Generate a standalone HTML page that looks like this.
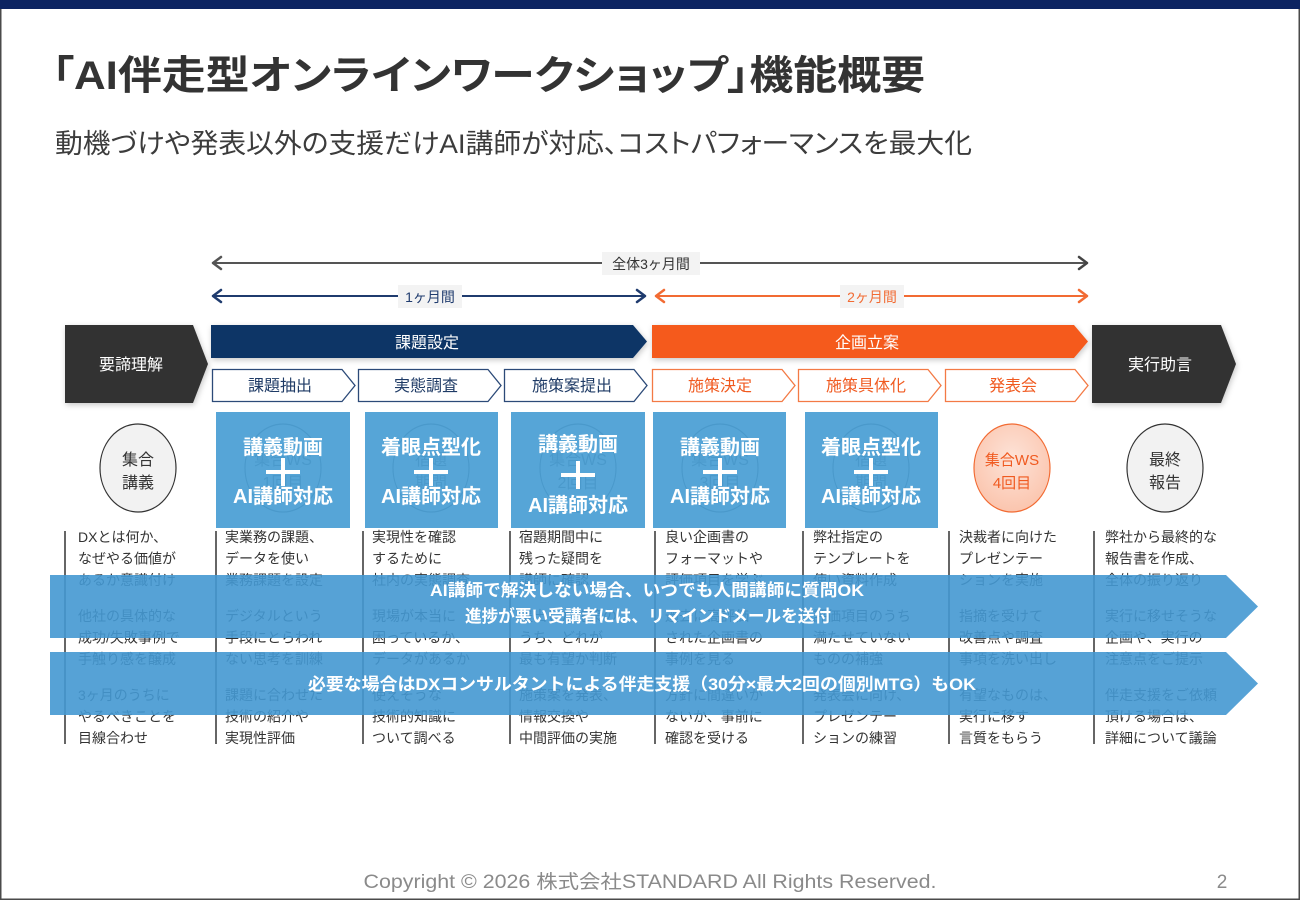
<!DOCTYPE html>
<html><head><meta charset="utf-8">
<style>
html,body{margin:0;padding:0;background:#fff;}
body{width:1300px;height:900px;overflow:hidden;position:relative;}
svg{position:absolute;left:0;top:0;}
text{font-family:"Liberation Sans","Noto Sans CJK JP",sans-serif;}
.p{font-feature-settings:"palt";}
</style></head><body>
<svg width="1300" height="900" viewBox="0 0 1300 900" xmlns="http://www.w3.org/2000/svg">
<defs>
<filter id="sh" x="-10%" y="-20%" width="120%" height="150%">
<feDropShadow dx="1" dy="2" stdDeviation="3" flood-color="#000" flood-opacity="0.22"/>
</filter>
<radialGradient id="og" cx="50%" cy="40%" r="60%">
<stop offset="0" stop-color="#fde3d8"/><stop offset="1" stop-color="#fbc5ae"/>
</radialGradient>
</defs>
<rect x="0" y="0" width="1300" height="900" fill="#fff"/>
<!-- frame -->
<rect x="0.75" y="0.75" width="1298.5" height="898.5" fill="none" stroke="#4a4a4a" stroke-width="1.5"/>
<rect x="0" y="0" width="1300" height="9" fill="#0c2461"/>

<!-- title -->
<text class="p" x="52" y="89" font-size="40" font-weight="bold" fill="#333" textLength="873" lengthAdjust="spacingAndGlyphs">「AI伴走型オンラインワークショップ」機能概要</text>
<text class="p" x="55" y="153" font-size="27" fill="#3c3c3c" textLength="917" lengthAdjust="spacingAndGlyphs">動機づけや発表以外の支援だけAI講師が対応、コストパフォーマンスを最大化</text>

<!-- period arrows -->
<g fill="none" stroke-linecap="round" stroke-linejoin="round">
<line x1="213" y1="263" x2="1087" y2="263" stroke="#555" stroke-width="2"/>
<polyline points="221,257 213,263 221,269" stroke="#555" stroke-width="2.5"/>
<polyline points="1079,257 1087,263 1079,269" stroke="#444" stroke-width="2.5"/>
<line x1="213" y1="296" x2="645" y2="296" stroke="#1f3b6e" stroke-width="2"/>
<polyline points="221,290 213,296 221,302" stroke="#1f3b6e" stroke-width="2.5"/>
<polyline points="637,290 645,296 637,302" stroke="#1f3b6e" stroke-width="2.5"/>
<line x1="656" y1="296" x2="1087" y2="296" stroke="#f26b33" stroke-width="2"/>
<polyline points="664,290 656,296 664,302" stroke="#f26b33" stroke-width="2.5"/>
<polyline points="1079,290 1087,296 1079,302" stroke="#f26b33" stroke-width="2.5"/>
</g>
<rect x="602" y="252" width="98" height="23" fill="#f3f3f3"/>
<text x="651" y="269" font-size="14" fill="#333" text-anchor="middle">全体3ヶ月間</text>
<rect x="398" y="285" width="64" height="23" fill="#f3f3f3"/>
<text x="430" y="302" font-size="14" fill="#1f3b6e" text-anchor="middle">1ヶ月間</text>
<rect x="840" y="285" width="64" height="23" fill="#f3f3f3"/>
<text x="872" y="302" font-size="14" fill="#f26b33" text-anchor="middle">2ヶ月間</text>

<!-- top chevrons -->
<g filter="url(#sh)">
<polygon points="65,325 193,325 208,364 193,403 65,403" fill="#333"/>
<polygon points="211,325 633,325 647,341.5 633,358 211,358" fill="#0d3466"/>
<polygon points="652,325 1074,325 1088,341.5 1074,358 652,358" fill="#f55a1e"/>
<polygon points="1092,325 1221,325 1236,364 1221,403 1092,403" fill="#333"/>
</g>
<text x="131" y="370" font-size="16" fill="#fff" text-anchor="middle">要諦理解</text>
<text x="427" y="348" font-size="16" fill="#fff" text-anchor="middle">課題設定</text>
<text x="867" y="348" font-size="16" fill="#fff" text-anchor="middle">企画立案</text>
<text x="1160" y="370" font-size="16" fill="#fff" text-anchor="middle">実行助言</text>

<!-- sub chevrons -->
<g stroke-width="1.3" fill="#fff">
<polygon points="212.5,369.5 342,369.5 355,385.5 342,401.5 212.5,401.5" stroke="#2c4a78"/>
<polygon points="358.5,369.5 488,369.5 501,385.5 488,401.5 358.5,401.5" stroke="#2c4a78"/>
<polygon points="504.5,369.5 634,369.5 647,385.5 634,401.5 504.5,401.5" stroke="#2c4a78"/>
<polygon points="652.5,369.5 782,369.5 795,385.5 782,401.5 652.5,401.5" stroke="#f37a45"/>
<polygon points="798.5,369.5 928,369.5 941,385.5 928,401.5 798.5,401.5" stroke="#f37a45"/>
<polygon points="945.5,369.5 1075,369.5 1088,385.5 1075,401.5 945.5,401.5" stroke="#f37a45"/>
</g>
<g font-size="16" text-anchor="middle">
<text x="280" y="391" fill="#1f3b66">課題抽出</text>
<text x="426" y="391" fill="#1f3b66">実態調査</text>
<text x="572" y="391" fill="#1f3b66">施策案提出</text>
<text x="720" y="391" fill="#f05a20">施策決定</text>
<text x="866" y="391" fill="#f05a20">施策具体化</text>
<text x="1013" y="391" fill="#f05a20">発表会</text>
</g>

<!-- circles -->
<ellipse cx="138" cy="468" rx="38" ry="44" fill="#f2f2f2" stroke="#333" stroke-width="1.2"/>
<text x="138" y="465" font-size="16" fill="#333" text-anchor="middle">集合</text>
<text x="138" y="488" font-size="16" fill="#333" text-anchor="middle">講義</text>
<ellipse cx="1012" cy="468" rx="38" ry="44" fill="url(#og)" stroke="#f26b33" stroke-width="1.2"/>
<text x="1012" y="465" font-size="15" fill="#f05a20" text-anchor="middle">集合WS</text>
<text x="1012" y="488" font-size="15" fill="#f05a20" text-anchor="middle">4回目</text>
<ellipse cx="1165" cy="468" rx="38" ry="44" fill="#f2f2f2" stroke="#333" stroke-width="1.2"/>
<text x="1165" y="465" font-size="16" fill="#333" text-anchor="middle">最終</text>
<text x="1165" y="488" font-size="16" fill="#333" text-anchor="middle">報告</text>

<!-- hidden circles behind boxes -->
<g fill="none" stroke="#333" stroke-width="1.2">
<ellipse cx="283" cy="468" rx="38" ry="44"/>
<ellipse cx="431" cy="468" rx="38" ry="44"/>
<ellipse cx="578" cy="468" rx="38" ry="44"/>
<ellipse cx="720" cy="468" rx="38" ry="44"/>
<ellipse cx="871" cy="468" rx="38" ry="44"/>
</g>
<g font-size="16" fill="#333" text-anchor="middle">
<text x="283" y="465">集合WS</text><text x="283" y="488">1回目</text>
<text x="431" y="465">宿題</text><text x="431" y="488">期間</text>
<text x="578" y="465">集合WS</text><text x="578" y="488">2回目</text>
<text x="720" y="465">集合WS</text><text x="720" y="488">3回目</text>
<text x="871" y="465">宿題</text><text x="871" y="488">期間</text>
</g>

<!-- blue boxes -->
<g fill="#4b9fd4" fill-opacity="0.94">
<rect x="216" y="412" width="134" height="116"/>
<rect x="365" y="412" width="133" height="116"/>
<rect x="511" y="412" width="134" height="116"/>
<rect x="653" y="412" width="133" height="116"/>
<rect x="805" y="412" width="133" height="116"/>
</g>
<g font-size="20" font-weight="bold" fill="#fff" text-anchor="middle">
<text x="283" y="454">講義動画</text><text x="283" y="503">AI講師対応</text>
<text x="431" y="454">着眼点型化</text><text x="431" y="503">AI講師対応</text>
<text x="578" y="451">講義動画</text><text x="578" y="512">AI講師対応</text>
<text x="720" y="454">講義動画</text><text x="720" y="503">AI講師対応</text>
<text x="871" y="454">着眼点型化</text><text x="871" y="503">AI講師対応</text>
</g>
<g fill="#fff">
<rect x="266" y="470" width="34" height="4"/><rect x="281" y="458" width="4" height="28"/>
<rect x="414" y="470" width="34" height="4"/><rect x="429" y="458" width="4" height="28"/>
<rect x="561" y="473" width="34" height="4"/><rect x="576" y="461" width="4" height="28"/>
<rect x="703" y="470" width="34" height="4"/><rect x="718" y="458" width="4" height="28"/>
<rect x="854" y="470" width="34" height="4"/><rect x="869" y="458" width="4" height="28"/>
</g>

<!-- column lines -->
<g stroke="#333" stroke-width="1.5">
<line x1="65" y1="531" x2="65" y2="744"/>
<line x1="216" y1="531" x2="216" y2="744"/>
<line x1="363" y1="531" x2="363" y2="744"/>
<line x1="510" y1="531" x2="510" y2="744"/>
<line x1="655" y1="531" x2="655" y2="744"/>
<line x1="803" y1="531" x2="803" y2="744"/>
<line x1="949" y1="531" x2="949" y2="744"/>
<line x1="1094" y1="531" x2="1094" y2="744"/>
</g>
<g font-size="14" fill="#333">
<text x="78" y="542">DXとは何か、</text><text x="78" y="563.5">なぜやる価値が</text><text x="78" y="585">あるか意識付け</text>
<text x="78" y="621">他社の具体的な</text><text x="78" y="642.5">成功/失敗事例で</text><text x="78" y="664">手触り感を醸成</text>
<text x="78" y="700">3ヶ月のうちに</text><text x="78" y="721.5">やるべきことを</text><text x="78" y="743">目線合わせ</text>

<text x="225" y="542">実業務の課題、</text><text x="225" y="563.5">データを使い</text><text x="225" y="585">業務課題を設定</text>
<text x="225" y="621">デジタルという</text><text x="225" y="642.5">手段にとらわれ</text><text x="225" y="664">ない思考を訓練</text>
<text x="225" y="700">課題に合わせた</text><text x="225" y="721.5">技術の紹介や</text><text x="225" y="743">実現性評価</text>

<text x="372" y="542">実現性を確認</text><text x="372" y="563.5">するために</text><text x="372" y="585">社内の実態調査</text>
<text x="372" y="621">現場が本当に</text><text x="372" y="642.5">困っているか、</text><text x="372" y="664">データがあるか</text>
<text x="372" y="700">使えそうな</text><text x="372" y="721.5">技術的知識に</text><text x="372" y="743">ついて調べる</text>

<text x="519" y="542">宿題期間中に</text><text x="519" y="563.5">残った疑問を</text><text x="519" y="585">講師に確認</text>
<text x="519" y="621">提出した施策の</text><text x="519" y="642.5">うち、どれが</text><text x="519" y="664">最も有望か判断</text>
<text x="519" y="700">施策案を発表、</text><text x="519" y="721.5">情報交換や</text><text x="519" y="743">中間評価の実施</text>

<text x="665" y="542">良い企画書の</text><text x="665" y="563.5">フォーマットや</text><text x="665" y="585">評価項目を学ぶ</text>
<text x="665" y="621">過去に高評価</text><text x="665" y="642.5">された企画書の</text><text x="665" y="664">事例を見る</text>
<text x="665" y="700">方針に間違いが</text><text x="665" y="721.5">ないか、事前に</text><text x="665" y="743">確認を受ける</text>

<text x="813" y="542">弊社指定の</text><text x="813" y="563.5">テンプレートを</text><text x="813" y="585">使い資料作成</text>
<text x="813" y="621">評価項目のうち</text><text x="813" y="642.5">満たせていない</text><text x="813" y="664">ものの補強</text>
<text x="813" y="700">発表会に向け、</text><text x="813" y="721.5">プレゼンテー</text><text x="813" y="743">ションの練習</text>

<text x="959" y="542">決裁者に向けた</text><text x="959" y="563.5">プレゼンテー</text><text x="959" y="585">ションを実施</text>
<text x="959" y="621">指摘を受けて</text><text x="959" y="642.5">改善点や調査</text><text x="959" y="664">事項を洗い出し</text>
<text x="959" y="700">有望なものは、</text><text x="959" y="721.5">実行に移す</text><text x="959" y="743">言質をもらう</text>

<text x="1105" y="542">弊社から最終的な</text><text x="1105" y="563.5">報告書を作成、</text><text x="1105" y="585">全体の振り返り</text>
<text x="1105" y="621">実行に移せそうな</text><text x="1105" y="642.5">企画や、実行の</text><text x="1105" y="664">注意点をご提示</text>
<text x="1105" y="700">伴走支援をご依頼</text><text x="1105" y="721.5">頂ける場合は、</text><text x="1105" y="743">詳細について議論</text>
</g>

<!-- overlay bands -->
<g fill="#4498d2" fill-opacity="0.9">
<polygon points="50,575 1226,575 1258,606.5 1226,638 50,638"/>
<polygon points="50,652 1226,652 1258,683.5 1226,715 50,715"/>
</g>
<g font-size="17" font-weight="bold" fill="#fff" text-anchor="middle">
<text x="647" y="596" textLength="434" lengthAdjust="spacingAndGlyphs">AI講師で解決しない場合、いつでも人間講師に質問OK</text>
<text x="648" y="622" textLength="366" lengthAdjust="spacingAndGlyphs">進捗が悪い受講者には、リマインドメールを送付</text>
<text x="642" y="690" textLength="668" lengthAdjust="spacingAndGlyphs">必要な場合はDXコンサルタントによる伴走支援（30分×最大2回の個別MTG）もOK</text>
</g>

<!-- footer -->
<text x="650" y="888" font-size="19" fill="#8a8a8a" text-anchor="middle" textLength="573" lengthAdjust="spacingAndGlyphs">Copyright © 2026 株式会社STANDARD All Rights Reserved.</text>
<text x="1222" y="888" font-size="19" fill="#8a8a8a" text-anchor="middle">2</text>
</svg>
</body></html>
